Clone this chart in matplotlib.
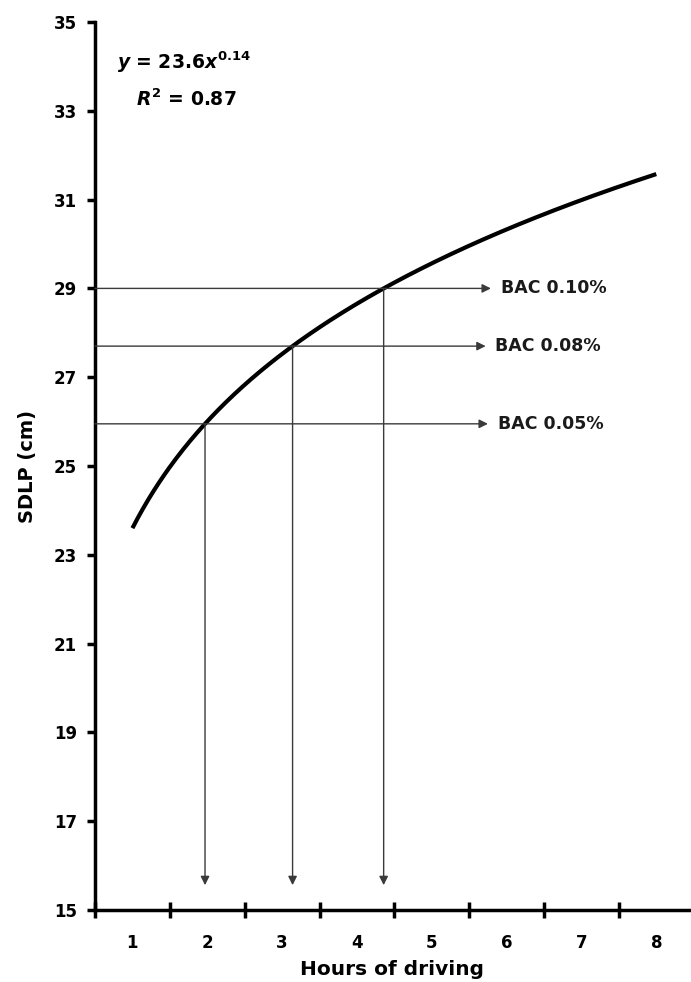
import numpy as np
import matplotlib.pyplot as plt

plt.rcParams['font.family'] = ['DejaVu Sans']
plt.rcParams['font.weight'] = 'bold'
plt.rcParams['mathtext.fontset'] = 'custom'
plt.rcParams['mathtext.rm'] = 'DejaVu Sans:bold'
plt.rcParams['mathtext.it'] = 'DejaVu Sans:bold:italic'
plt.rcParams['mathtext.bf'] = 'DejaVu Sans:bold'

# power fit y = a * x^b
fit_a = 23.6
fit_b = 0.14
fit_r2 = 0.87
hours = [1, 2, 3, 4, 5, 6, 7, 8]

# SDLP equivalents of blood alcohol levels
bac_labels = ['BAC 0.10%', 'BAC 0.08%', 'BAC 0.05%']
bac_sdlp = [29.0, 27.7, 25.95]

y_ticks = [15, 17, 19, 21, 23, 25, 27, 29, 31, 33, 35]

fig = plt.figure(figsize=(6.91, 9.82), dpi=100)
ax = fig.add_axes([0.1375, 0.0733, 0.861, 0.9043])

xs = np.linspace(hours[0], hours[-1], 300)
ax.plot(xs, fit_a * xs ** fit_b, color='black', lw=3, solid_capstyle='butt', zorder=3)

line_col = '#3a3a3a'
arrow_tip_x = [5.79, 5.72, 5.75]
for lab, lvl, tip in zip(bac_labels, bac_sdlp, arrow_tip_x):
    cross = (lvl / fit_a) ** (1.0 / fit_b)
    ax.annotate('', xy=(tip, lvl), xytext=(0.5, lvl),
                arrowprops=dict(arrowstyle='-|>', lw=1, color=line_col,
                                shrinkA=0, shrinkB=0, mutation_scale=13))
    ax.annotate('', xy=(cross, 15.56), xytext=(cross, lvl),
                arrowprops=dict(arrowstyle='-|>', lw=1, color=line_col,
                                shrinkA=0, shrinkB=0, mutation_scale=13))
    ax.text(tip + 0.13, lvl, lab, fontsize=12.5, fontweight='bold',
            va='center', ha='left', color='#1a1a1a')

ax.text(0.79, 34.1, r'$y$ = 23.6$x^{\mathrm{0.14}}$', fontsize=13.5, ha='left', va='center')
ax.text(1.05, 33.25, r'$R^{\mathrm{2}}$ = ' + f'{fit_r2:.2f}', fontsize=13.5, ha='left', va='center')

ax.set_xlim(0.5, 8.45)
ax.set_ylim(15, 35)
ax.set_yticks(y_ticks)
ax.set_xticks(hours)
ax.set_xticks(np.arange(0.5, 8.0, 1.0), minor=True)
ax.tick_params(axis='y', direction='out', length=6, width=2.5, labelsize=12, pad=7)
ax.tick_params(axis='x', which='major', length=0, labelsize=12, pad=17)
ax.tick_params(axis='x', which='minor', direction='inout', length=12, width=2.5)
for lbl in ax.get_xticklabels() + ax.get_yticklabels():
    lbl.set_fontweight('bold')

for s in ['top', 'right']:
    ax.spines[s].set_visible(False)
for s in ['left', 'bottom']:
    ax.spines[s].set_linewidth(2.5)

ax.set_xlabel('Hours of driving', fontsize=14.5, fontweight='bold', labelpad=6)
ax.set_ylabel('SDLP (cm)', fontsize=14, fontweight='bold', labelpad=12)

fig.savefig('out.png', dpi=100)
